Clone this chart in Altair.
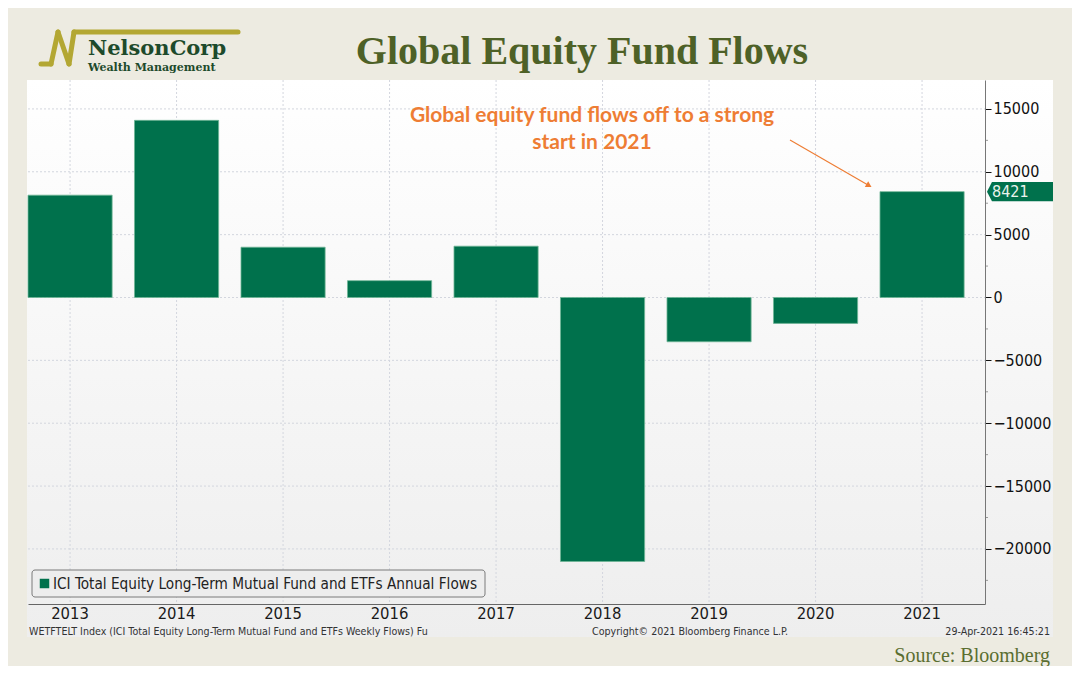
import altair as alt
import pandas as pd

# ---- data ----
years = ["2013", "2014", "2015", "2016", "2017", "2018", "2019", "2020", "2021"]
flows = [8140, 14090, 4000, 1340, 4080, -21000, -3520, -2060, 8421]
y_major = [-20000, -15000, -10000, -5000, 0, 5000, 10000, 15000]
y_minor = [-22500, -17500, -12500, -7500, -2500, 2500, 7500, 12500]

title_text = "Global Equity Fund Flows"
legend_text = "ICI Total Equity Long-Term Mutual Fund and ETFs Annual Flows"
note_text = ["Global equity fund flows off to a strong", "start in 2021"]
footer_left = "WETFTELT Index (ICI Total Equity Long-Term Mutual Fund and ETFs Weekly Flows) Fu"
footer_mid = "Copyright\u00a9 2021 Bloomberg Finance L.P."
footer_right = "29-Apr-2021 16:45:21"
source_text = "Source: Bloomberg"

GREEN = "#00714C"
ORANGE = "#EE7D34"
OLIVE = "#4E6127"
GRID = "#D3D6DE"
SANS = "DejaVu Sans Condensed, DejaVu Sans"

df = pd.DataFrame({"year": years, "flow": flows})
grid_y = pd.DataFrame({"flow": y_major})
minor_y = pd.DataFrame({"flow": y_minor})
one = pd.DataFrame({"k": [0]})

W, H = 957, 524

x_scale = alt.Scale(paddingInner=0.21, paddingOuter=0.098, align=0)
y_scale = alt.Scale(domain=[-24380, 17300], nice=False, zero=False)

x_axis = alt.Axis(orient="bottom", labelAngle=0, grid=False, zindex=2, bandPosition=0.5,
                  tickSize=0, domainColor="#666666", labelFont=SANS, labelFontSize=16.5,
                  labelColor="#1A1A1A", labelPadding=1)
y_axis = alt.Axis(orient="right", values=y_major, format="d", grid=False, zindex=2,
                  tickSize=6, tickColor="#111111", domainColor="#777777",
                  labelFont=SANS, labelFontSize=16, labelColor="#111111", labelPadding=2)

X = alt.X("year:N", scale=x_scale, sort=years, title=None, axis=x_axis)
Y = alt.Y("flow:Q", scale=y_scale, title=None, axis=y_axis)

# panel background (gradient)
panel = alt.Chart(one).mark_rect(
    color=alt.Gradient(
        gradient="linear",
        stops=[alt.GradientStop(color="#FFFFFF", offset=0),
               alt.GradientStop(color="#EEEEEE", offset=1)],
        x1=0, x2=0, y1=0, y2=1,
    )
).encode(x=alt.value(-1), x2=alt.value(1025), y=alt.value(0), y2=alt.value(557))

# dotted grid lines (behind the bars)
hgrid = alt.Chart(grid_y).mark_rule(color=GRID, strokeDash=[2, 2], strokeWidth=1).encode(
    y=Y, x=alt.value(0), x2=alt.value(W))
vgrid = alt.Chart(df).mark_rule(color=GRID, strokeDash=[2, 2], strokeWidth=1).encode(
    x=X, y=alt.value(0), y2=alt.value(H))
# minor ticks on the right axis
minor = alt.Chart(minor_y).mark_rule(color="#9A9A9A", strokeWidth=1).encode(
    y=Y, x=alt.value(W), x2=alt.value(W + 3))

bars = alt.Chart(df).mark_bar(color=GREEN, stroke="#6FB596", strokeWidth=0.8).encode(
    x=X, y=Y)

# last-value tag on the right axis
last = df[df["year"] == "2021"]
tag_shape = "M -1 0 L -0.85 -0.29 L 1 -0.29 L 1 0.29 L -0.85 0.29 Z"
tag = alt.Chart(last).mark_point(shape=tag_shape, filled=True, opacity=1,
                                 color=GREEN, size=4356).encode(
    x=alt.value(992), y=Y)
tag_text = alt.Chart(last).mark_text(align="left", baseline="middle", font=SANS,
                                     fontSize=16, color="#EAF3EC").encode(
    x=alt.value(964), y=Y, text=alt.Text("flow:Q", format="d"))

# legend box
leg_box = alt.Chart(one).mark_rect(fill="#EDEDED", stroke="#7A7A7A", strokeWidth=1,
                                   cornerRadius=3).encode(
    x=alt.value(4), x2=alt.value(457), y=alt.value(490), y2=alt.value(517))
leg_sq = alt.Chart(one).mark_square(color=GREEN, size=90, opacity=1).encode(
    x=alt.value(16.5), y=alt.value(503.5))
leg_txt = alt.Chart(one).mark_text(align="left", baseline="middle", font=SANS,
                                   fontSize=15.2, color="#222222").encode(
    x=alt.value(25), y=alt.value(504), text=alt.value(legend_text))

# annotation
note = alt.Chart(one).mark_text(align="center", baseline="middle", font="Lato",
                                fontWeight="bold", fontSize=21, color=ORANGE,
                                lineHeight=27).encode(
    x=alt.value(564), y=alt.value(36), text=alt.value(note_text))
arrow = alt.Chart(one).mark_rule(color=ORANGE, strokeWidth=1.2).encode(
    x=alt.value(762), y=alt.value(60), x2=alt.value(840), y2=alt.value(105))
arrow_head = alt.Chart(one).mark_point(shape="triangle-right", filled=True, opacity=1,
                                       color=ORANGE, size=45, angle=30).encode(
    x=alt.value(841), y=alt.value(105.5))

# footer texts
FOOT_Y = 552
foot1 = alt.Chart(one).mark_text(align="left", baseline="middle", font=SANS,
                                 fontSize=10.6, color="#333333").encode(
    x=alt.value(1), y=alt.value(FOOT_Y), text=alt.value(footer_left))
foot2 = alt.Chart(one).mark_text(align="left", baseline="middle", font=SANS,
                                 fontSize=10.6, color="#333333").encode(
    x=alt.value(564), y=alt.value(FOOT_Y), text=alt.value(footer_mid))
foot3 = alt.Chart(one).mark_text(align="right", baseline="middle", font=SANS,
                                 fontSize=10.6, color="#333333").encode(
    x=alt.value(1022), y=alt.value(FOOT_Y), text=alt.value(footer_right))

# header: title + logo
title = alt.Chart(one).mark_text(align="center", baseline="alphabetic",
                                 font="Liberation Serif", fontWeight="bold",
                                 fontSize=40, color=OLIVE).encode(
    x=alt.value(554), y=alt.value(-16), text=alt.value(title_text))
logo1 = alt.Chart(one).mark_text(align="left", baseline="alphabetic", font="DejaVu Serif",
                                 fontWeight="bold", fontSize=21, color="#1D4A2B").encode(
    x=alt.value(60), y=alt.value(-25), text=alt.value("NelsonCorp"))
logo2 = alt.Chart(one).mark_text(align="left", baseline="alphabetic", font="DejaVu Serif",
                                 fontWeight="bold", fontSize=11, color="#1D4A2B").encode(
    x=alt.value(60), y=alt.value(-9.5), text=alt.value("Wealth Management"))

GOLD = "#B3A733"
segs = [((13, -16), (23, -16)), ((23, -16), (30, -48)), ((30, -48), (41, -16)),
        ((41, -16), (46, -48)), ((46, -48), (210, -48))]
logo_lines = [
    alt.Chart(one).mark_rule(color=GOLD, strokeWidth=5, strokeCap="round").encode(
        x=alt.value(a[0]), y=alt.value(a[1]), x2=alt.value(b[0]), y2=alt.value(b[1]))
    for a, b in segs
]

source = alt.Chart(one).mark_text(align="right", baseline="alphabetic",
                                  font="Liberation Serif", fontSize=20,
                                  color="#5A6E30").encode(
    x=alt.value(1022), y=alt.value(582), text=alt.value(source_text))

chart = alt.layer(
    panel, hgrid, vgrid, minor, bars, tag, tag_text, leg_box, leg_sq, leg_txt, note,
    arrow, arrow_head, foot1, foot2, foot3, title, logo1, logo2, *logo_lines, source,
).properties(
    width=W, height=H,
    autosize=alt.AutoSizeParams(type="none"),
    padding={"left": 20, "top": 72, "right": 87, "bottom": 62},
    background="#EDEBE1",
).configure_view(stroke=None)

chart.save("out.html", embed_options={"renderer": "svg", "actions": False})
